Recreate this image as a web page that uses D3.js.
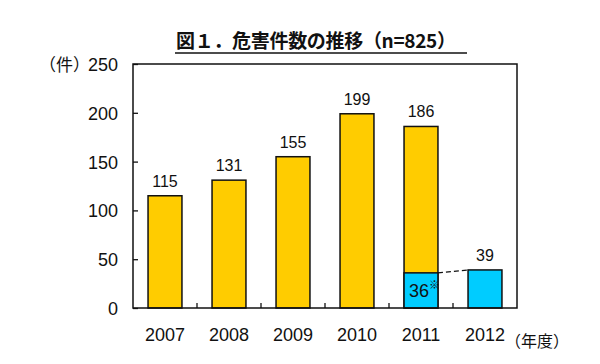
<!DOCTYPE html>
<html>
<head>
<meta charset="utf-8">
<script src="https://cdn.jsdelivr.net/npm/d3@7"></script>
<style>
  body { margin: 0; background: #fff; }
  text { fill: #111; }
</style>
</head>
<body>
<div class="chart"></div>
<script>
var years = ['2007', '2008', '2009', '2010', '2011', '2012'];
var totalCounts = [115, 131, 155, 199, 186, null];
var blueCounts = [null, null, null, null, 36, 39];
var yTicks = [0, 50, 100, 150, 200, 250];

var numFont = '"Liberation Sans", Arial, sans-serif';
var jpFont = '"Noto Sans CJK JP", sans-serif';

var margin = {top: 64, right: 83, bottom: 56, left: 133};
var width = 600 - margin.left - margin.right;
var height = 364 - margin.top - margin.bottom;

var root = d3.select('.chart')
  .append('svg')
    .attr('width', 600)
    .attr('height', 364);

var svg = root.append('g')
    .attr('transform', `translate(${margin.left}, ${margin.top})`);

var xScale = d3.scaleBand()
  .domain(years)
  .range([0, width]);

var yScale = d3.scaleLinear()
  .domain([0, 250])
  .range([height, 0]);

var barW = xScale.bandwidth() * 0.53;
var barX = d => xScale(d) + (xScale.bandwidth() - barW) / 2;

// title
root.append('text')
  .attr('x', 176)
  .attr('y', 48)
  .attr('textLength', 280)
  .style('font-family', jpFont)
  .style('font-size', '19px')
  .style('font-weight', 'bold')
  .text('図１．危害件数の推移（n=825）');
root.append('line')
  .attr('x1', 175).attr('x2', 467)
  .attr('y1', 53).attr('y2', 53)
  .attr('stroke', '#111').attr('stroke-width', 1.6);

// y axis
var yAxis = d3.axisLeft(yScale)
  .tickValues(yTicks)
  .tickSize(-5)
  .tickPadding(15)
  .tickSizeOuter(0);

var gy = svg.append('g').call(yAxis);
gy.select('.domain').remove();
gy.selectAll('line').attr('stroke', '#111').attr('stroke-width', 1.3);
gy.selectAll('text')
  .style('font-family', numFont)
  .style('font-size', '18px')
  .attr('dy', '0.36em');

root.append('text')
  .attr('x', 39)
  .attr('y', 71)
  .style('font-family', jpFont)
  .style('font-size', '17px')
  .text('（件）');

// x axis labels
var xAxis = d3.axisBottom(xScale)
  .tickSize(0)
  .tickPadding(20);

var gx = svg.append('g')
  .attr('transform', `translate(0, ${height})`)
  .call(xAxis);
gx.select('.domain').remove();
gx.selectAll('text')
  .style('font-family', numFont)
  .style('font-size', '18px');

root.append('text')
  .attr('x', 505)
  .attr('y', 347)
  .style('font-family', jpFont)
  .style('font-size', '16px')
  .text('（年度）');

// inner ticks between categories
svg.selectAll('.xtick')
  .data(years.slice(1))
  .enter()
  .append('line')
  .attr('class', 'xtick')
  .attr('x1', d => xScale(d))
  .attr('x2', d => xScale(d))
  .attr('y1', height)
  .attr('y2', height - 5)
  .attr('stroke', '#111')
  .attr('stroke-width', 1.3);

var data = years.map((y, i) => ({year: y, total: totalCounts[i], blue: blueCounts[i]}));

// yellow bars
svg.selectAll('.bar')
  .data(data.filter(d => d.total != null))
  .enter()
  .append('rect')
  .attr('class', 'bar')
  .attr('x', d => barX(d.year))
  .attr('y', d => yScale(d.total))
  .attr('width', barW)
  .attr('height', d => height - yScale(d.total))
  .attr('fill', '#FFCC00')
  .attr('stroke', '#111')
  .attr('stroke-width', 1.5);

// blue bars
svg.selectAll('.blue')
  .data(data.filter(d => d.blue != null))
  .enter()
  .append('rect')
  .attr('class', 'blue')
  .attr('x', d => barX(d.year))
  .attr('y', d => yScale(d.blue))
  .attr('width', barW)
  .attr('height', d => height - yScale(d.blue))
  .attr('fill', '#00CCFF')
  .attr('stroke', '#111')
  .attr('stroke-width', 1.5);

// dashed link between blue parts
var blues = data.filter(d => d.blue != null);
svg.append('line')
  .attr('x1', barX(blues[0].year) + barW)
  .attr('y1', yScale(blues[0].blue))
  .attr('x2', barX(blues[1].year))
  .attr('y2', yScale(blues[1].blue))
  .attr('stroke', '#111')
  .attr('stroke-width', 1.3)
  .attr('stroke-dasharray', '5,3');

// value labels
svg.selectAll('.lbl')
  .data(data)
  .enter()
  .append('text')
  .attr('class', 'lbl')
  .attr('x', d => xScale(d.year) + xScale.bandwidth() / 2)
  .attr('y', d => yScale(d.total != null ? d.total : d.blue) - 9)
  .attr('text-anchor', 'middle')
  .style('font-family', numFont)
  .style('font-size', '16px')
  .text(d => d.total != null ? d.total : d.blue);

// label inside 2011 blue part
var b0 = blues[0];
var inner = svg.append('text')
  .attr('x', barX(b0.year) + 5)
  .attr('y', yScale(b0.blue / 2) + 7)
  .style('font-family', numFont)
  .style('font-size', '18px')
  .text(b0.blue);
inner.append('tspan')
  .attr('dy', -8)
  .style('font-family', jpFont)
  .style('font-size', '11px')
  .text('※');

// frame
svg.append('rect')
  .attr('width', width)
  .attr('height', height)
  .attr('fill', 'none')
  .attr('stroke', '#111')
  .attr('stroke-width', 1.5);
</script>
</body>
</html>
